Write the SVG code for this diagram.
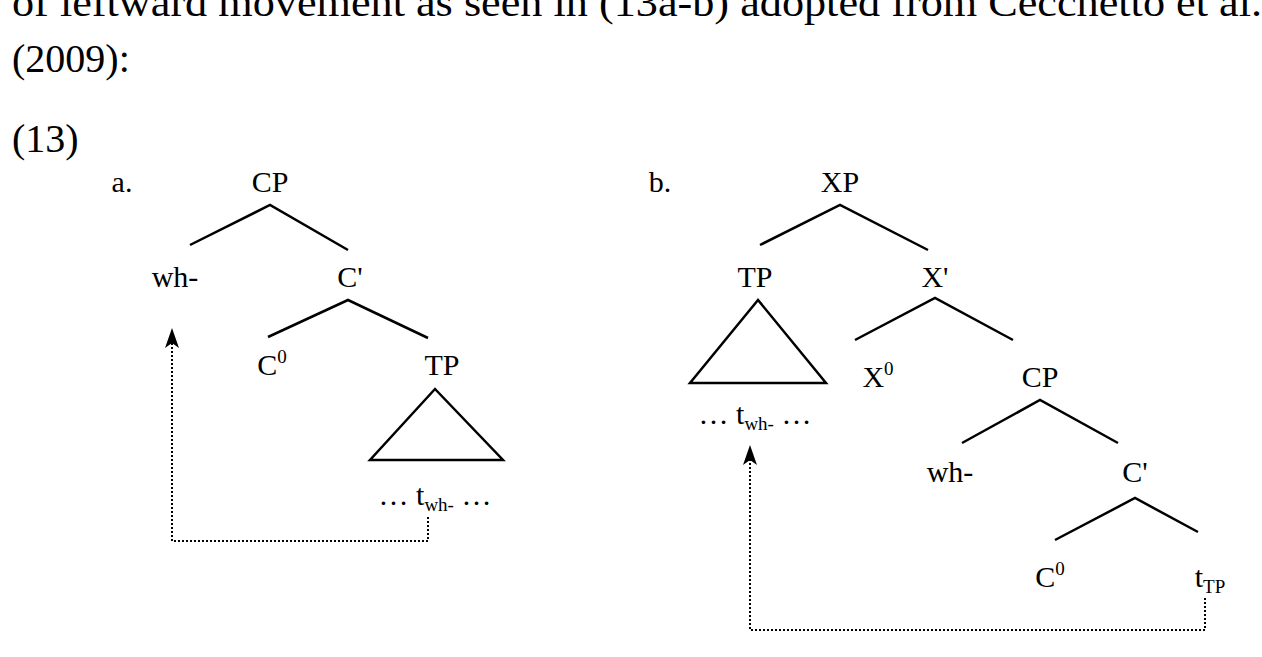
<svg xmlns="http://www.w3.org/2000/svg" width="1262" height="657" viewBox="0 0 1262 657">
<style>
text{font-family:"Liberation Serif","Times New Roman",serif;fill:#000}
.n{font-size:30px;text-anchor:middle}
.s{font-size:19px}
.big{font-size:40px}
.e{stroke:#000;stroke-width:2.5;fill:none}
.d{stroke:#000;stroke-width:2;fill:none;stroke-dasharray:2 2}
</style>
<rect width="1262" height="657" fill="#fff"/>
<text class="big" x="12" y="16" textLength="1250" lengthAdjust="spacingAndGlyphs">of leftward movement as seen in (13a-b) adopted from Cecchetto et al.</text>
<text class="big" x="12" y="72">(2009):</text>
<text class="big" x="12" y="152">(13)</text>
<g id="treeA">
<text class="n" x="122" y="192">a.</text>
<g id="a-CP"><text class="n" x="270" y="192">CP</text></g>
<g id="a-wh"><text class="n" x="175" y="287">wh-</text></g>
<g id="a-C1"><text class="n" x="350" y="287">C'</text></g>
<g id="a-C0"><text class="n" x="272" y="375">C<tspan class="s" dy="-12">0</tspan></text></g>
<g id="a-TP"><text class="n" x="442" y="375">TP</text>
<path class="e" d="M435,389 L370,460 L503,460 Z"/>
<text class="n" x="435" y="505">… t<tspan class="s" dy="6">wh-</tspan><tspan dy="-6"> …</tspan></text></g>
</g>
<g id="treeB">
<text class="n" x="660" y="192">b.</text>
<g id="b-XP"><text class="n" x="840" y="192">XP</text></g>
<g id="b-TP"><text class="n" x="755" y="287">TP</text>
<path class="e" d="M758,300 L690,383 L826,383 Z"/>
<text class="n" x="755" y="424">… t<tspan class="s" dy="6">wh-</tspan><tspan dy="-6"> …</tspan></text></g>
<g id="b-X1"><text class="n" x="935" y="287">X'</text></g>
<g id="b-X0"><text class="n" x="878" y="387">X<tspan class="s" dy="-12">0</tspan></text></g>
<g id="b-CP"><text class="n" x="1040" y="387">CP</text></g>
<g id="b-wh"><text class="n" x="950" y="482">wh-</text></g>
<g id="b-C1"><text class="n" x="1135" y="482">C'</text></g>
<g id="b-C0"><text class="n" x="1050" y="587">C<tspan class="s" dy="-12">0</tspan></text></g>
<g id="b-tTP"><text class="n" x="1210" y="587">t<tspan class="s" dy="6">TP</tspan></text></g>
</g>
<g id="connectors">
<path class="e" d="M190,245 L270,205 L348,250"/>
<path class="e" d="M268,337 L348,300 L428,338"/>
<path class="e" d="M760,245 L840,205 L928,250"/>
<path class="e" d="M855,340 L935,298 L1013,340"/>
<path class="e" d="M962,443 L1040,400 L1118,443"/>
<path class="e" d="M1055,540 L1135,498 L1198,532"/>
<path class="d" d="M428,517 L428,541 L172,541 L172,334"/>
<path d="M165,348 L172,328 L179,348 L172,343 Z"/>
<path class="d" d="M1205,598 L1205,630 L750,630 L750,452"/>
<path d="M743,465 L750,445 L757,465 L750,460 Z"/>
</g>
</svg>
